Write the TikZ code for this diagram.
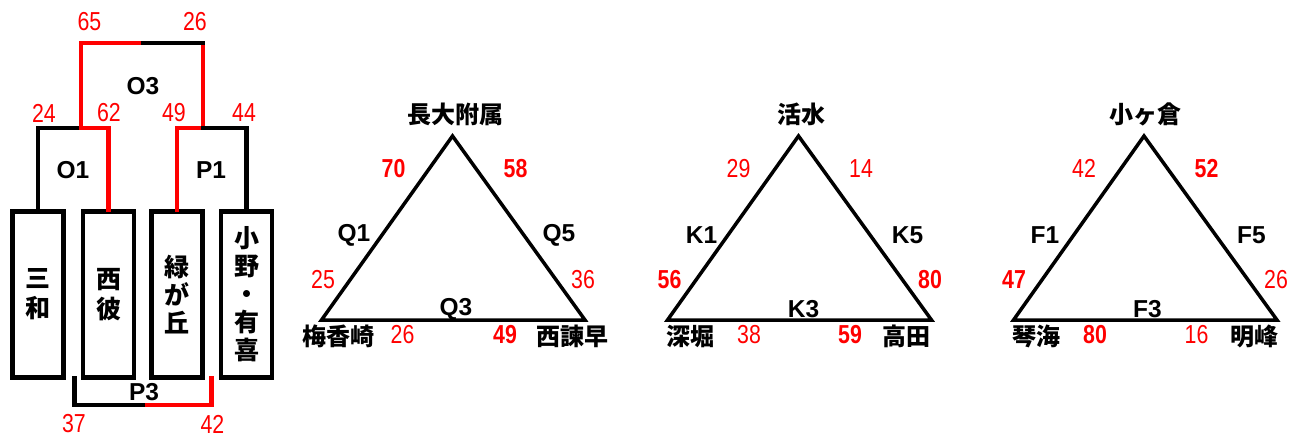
\documentclass[tikz,border=0pt]{standalone}
\usepackage{fontspec}
\setmainfont{Liberation Sans}
\newfontfamily\jp{Noto Sans CJK JP}
\newfontfamily\numfont{Liberation Sans}[FakeStretch=0.82]
\usetikzlibrary{positioning}

\tikzset{
  stn/.style={font=\jp\bfseries\fontsize{24}{24}\selectfont, inner sep=0pt},
  rte/.style={font=\bfseries\fontsize{24.5}{24.5}\selectfont, inner sep=0pt},
  cnt/.style={text=red, font=\numfont\fontsize{26}{26}\selectfont, inner sep=0pt},
  cntb/.style={text=red, font=\numfont\bfseries\fontsize{26}{26}\selectfont, inner sep=0pt},
  stnbox/.style={draw, line width=4.5pt, minimum width=51pt, minimum height=166pt,
    inner sep=0pt, align=center, font=\jp\bfseries\fontsize{25}{28}\selectfont},
  brk/.style={line width=4.5pt, line cap=rect},
  tri/.style={line width=3.5pt, line join=miter}
}

\begin{document}
\begin{tikzpicture}[x=1pt,y=-1pt]
  \useasboundingbox (0,0) rectangle (1306,437);

  \node[stnbox] (sanwa) at (38,294.5) {三\\[2pt]和};
  \node[stnbox] (seihi) at (108.5,294.5) {西\\[2pt]彼};
  \node[stnbox] (midori) at (177,294.5) {緑\\が\\丘};
  \node[stnbox] (onoyuki) at (246.5,294.5) {小\\野\\・\\有\\喜};

  \coordinate (o1m) at (81,128);
  \coordinate (p1m) at (203,128);
  \coordinate (o3m) at (143,43);
  \coordinate (o3r) at (203,43);
  \coordinate (p3l) at (74.5,378);
  \coordinate (p3m) at (143,405);
  \coordinate (p3r) at (211.5,378);

  \draw[brk] (sanwa.north) |- (o1m);
  \draw[brk,red] (o1m) -| (seihi.north);
  \draw[brk,red] (midori.north) |- (p1m);
  \draw[brk,red] (o1m) |- (o3m);
  \draw[brk,red] (o3r) -- (p1m);
  \draw[brk,red] (p3m) -| (p3r);
  \draw[brk] (p1m) -| (onoyuki.north);
  \draw[brk] (o3m) -- (o3r);
  \draw[brk] (p3l) |- (p3m);

  \node[rte] (o3) at (143,86) {O3};
  \node[rte] (o1) at (73,170) {O1};
  \node[rte] (p1) at (211,170) {P1};
  \node[rte] (p3) at (144,392) {P3};
  \node[cnt] at (89.5,21.5) {65};
  \node[cnt] at (195,21.5) {26};
  \node[cnt] at (44,113) {24};
  \node[cnt] at (109,112.5) {62};
  \node[cnt] at (174,112.5) {49};
  \node[cnt] at (244,113) {44};
  \node[cnt] at (74,424) {37};
  \node[cnt] at (212.5,424) {42};

  \node[stn] (nagadai) at (455,114) {長大附属};
  \node[stn] (umegasaki) at (338,336) {梅香崎};
  \node[stn] (isahaya) at (572.5,336) {西諫早};
  \coordinate (qtop) at (452.5,136);
  \coordinate (qleft) at (321.5,320);
  \coordinate (qright) at (585,320);
  \draw[tri] (qtop) -- (qleft) -- (qright) -- cycle;
  \node[rte] at (354,235) {Q1};
  \node[rte] at (559,235) {Q5};
  \node[rte] at (456,309) {Q3};
  \node[cntb] at (393.5,168.5) {70};
  \node[cntb] at (515.5,168.5) {58};
  \node[cnt] at (323,280) {25};
  \node[cnt] at (583,280) {36};
  \node[cnt] at (402.5,335) {26};
  \node[cntb] at (505,335) {49};

  \node[stn] (kassui) at (801,114) {活水};
  \node[stn] (fukahori) at (690,336) {深堀};
  \node[stn] (takada) at (906.5,336) {高田};
  \coordinate (ktop) at (798.5,136);
  \coordinate (kleft) at (667.5,320);
  \coordinate (kright) at (931.5,320);
  \draw[tri] (ktop) -- (kleft) -- (kright) -- cycle;
  \node[rte] at (701.5,235) {K1};
  \node[rte] at (907.5,235) {K5};
  \node[rte] at (803.5,309) {K3};
  \node[cnt] at (738.5,168.5) {29};
  \node[cnt] at (861,168.5) {14};
  \node[cntb] at (669.5,280) {56};
  \node[cntb] at (930,280) {80};
  \node[cnt] at (749,335) {38};
  \node[cntb] at (850,335) {59};

  \node[stn] (kogakura) at (1145,114) {小ヶ倉};
  \node[stn] (kotoumi) at (1036.5,336) {琴海};
  \node[stn] (meiho) at (1254,336) {明峰};
  \coordinate (ftop) at (1144,136);
  \coordinate (fleft) at (1013.5,320);
  \coordinate (fright) at (1277,320);
  \draw[tri] (ftop) -- (fleft) -- (fright) -- cycle;
  \node[rte] at (1045,235) {F1};
  \node[rte] at (1251.5,235) {F5};
  \node[rte] at (1147.5,309) {F3};
  \node[cnt] at (1084,168.5) {42};
  \node[cntb] at (1206.5,168.5) {52};
  \node[cntb] at (1014,280) {47};
  \node[cnt] at (1276,280) {26};
  \node[cntb] at (1095,335) {80};
  \node[cnt] at (1196.5,335) {16};
\end{tikzpicture}
\end{document}
